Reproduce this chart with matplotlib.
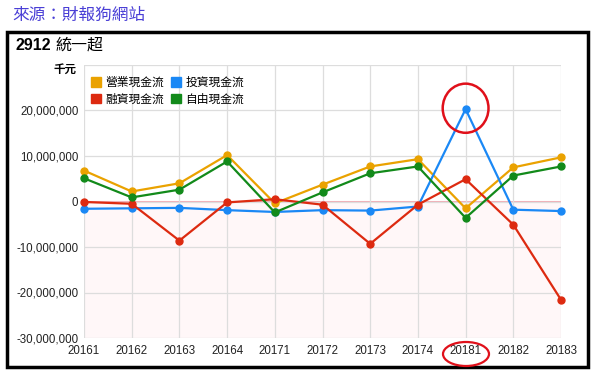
import matplotlib
matplotlib.use("Agg")
from matplotlib import pyplot as plt
from matplotlib.patches import Ellipse, Rectangle, Patch
from matplotlib.ticker import FuncFormatter

plt.rcParams['font.family'] = ['Liberation Sans', 'Noto Sans CJK TC', 'DejaVu Sans']

quarters = ['20161', '20162', '20163', '20164', '20171', '20172',
            '20173', '20174', '20181', '20182', '20183']
# 千元
operating = [6800000, 2200000, 4000000, 10200000, -400000, 3700000,
             7700000, 9300000, -1500000, 7500000, 9700000]
investing = [-1600000, -1500000, -1400000, -1900000, -2300000, -1900000,
             -2000000, -1100000, 20300000, -1800000, -2100000]
financing = [-100000, -500000, -8600000, -200000, 500000, -700000,
             -9300000, -700000, 4900000, -5100000, -21600000]
free_cf = [5100000, 900000, 2600000, 8800000, -2400000, 2000000,
           6200000, 7700000, -3600000, 5700000, 7700000]

series = [
    ('營業現金流', operating, '#eaa200'),
    ('投資現金流', investing, '#1a88f5'),
    ('融資現金流', financing, '#dd2a10'),
    ('自由現金流', free_cf, '#128a1a'),
]

fig = plt.figure(figsize=(5.98, 3.77), dpi=100)
W, H = 598, 377

# source line + black frame
fig.text(12 / W, 1 - 15 / H, '來源：財報狗網站', color='#4a3fd6', fontsize=12,
         va='center', ha='left')
fig.patches.append(Rectangle((7 / W, 1 - 367 / H), 581 / W, 335 / H,
                             transform=fig.transFigure, fill=False,
                             edgecolor='black', linewidth=2.5))
fig.text(15 / W, 1 - 45 / H, '2912', fontsize=11.5, fontweight='bold',
         va='center', ha='left')
fig.text(55 / W, 1 - 45 / H, '統一超', fontsize=11.5, va='center', ha='left',
         family=['Noto Sans CJK TC'])
fig.text(76 / W, 1 - 69 / H, '千元', fontsize=8.3, fontweight='bold',
         va='center', ha='right', family=['Noto Sans CJK TC'], zorder=10)

ax = fig.add_axes([84 / W, 1 - 338 / H, 477 / W, 273 / H])
x = list(range(len(quarters)))

ax.axhspan(-30000000, 0, color='#fff7f8', zorder=0)
ax.axhline(0, color='#f0a0a8', linewidth=1.2, zorder=1)

for name, vals, col in series:
    ax.plot(x, vals, color=col, linewidth=1.6, marker='o', markersize=5,
            label=name, zorder=3, clip_on=False)

ax.set_xlim(0, len(quarters) - 1)
ax.set_ylim(-30000000, 30000000)
ax.set_yticks(range(-30000000, 30000001, 10000000))
ax.yaxis.set_major_formatter(FuncFormatter(
    lambda v, p: '' if v >= 30000000 else '{:,.0f}'.format(v)))
ax.set_xticks(x)
ax.set_xticklabels(quarters)
ax.grid(True, color='#dddddd', linewidth=0.9, zorder=0)
for s in ax.spines.values():
    s.set_visible(False)
ax.tick_params(length=0, labelsize=8.3, colors='#222222', pad=5)
ax.tick_params(axis='y', pad=4)

# legend, 2 columns filled column-first -> reorder
order = [0, 2, 1, 3]
handles = [Patch(facecolor=series[i][2], edgecolor=series[i][2], label=series[i][0])
           for i in order]
ax.legend(handles=handles, loc='upper left', ncol=2, bbox_to_anchor=(0.0, 0.985),
          frameon=False, handlelength=0.85, handleheight=0.85,
          handletextpad=0.35, columnspacing=0.6, labelspacing=0.3,
          borderaxespad=0.2, prop={'family': ['Noto Sans CJK TC'], 'size': 8.5})

# red hand-drawn circles
ax.add_patch(Ellipse((8, 20500000), 0.96, 10800000, fill=False,
                     edgecolor='#e0101a', linewidth=1.8, zorder=5, clip_on=False))
fig.patches.append(Ellipse((466 / W, 1 - 354 / H), 46 / W, 24 / H,
                           transform=fig.transFigure, fill=False,
                           edgecolor='#e0101a', linewidth=1.6))

fig.savefig('out.png', dpi=100)
